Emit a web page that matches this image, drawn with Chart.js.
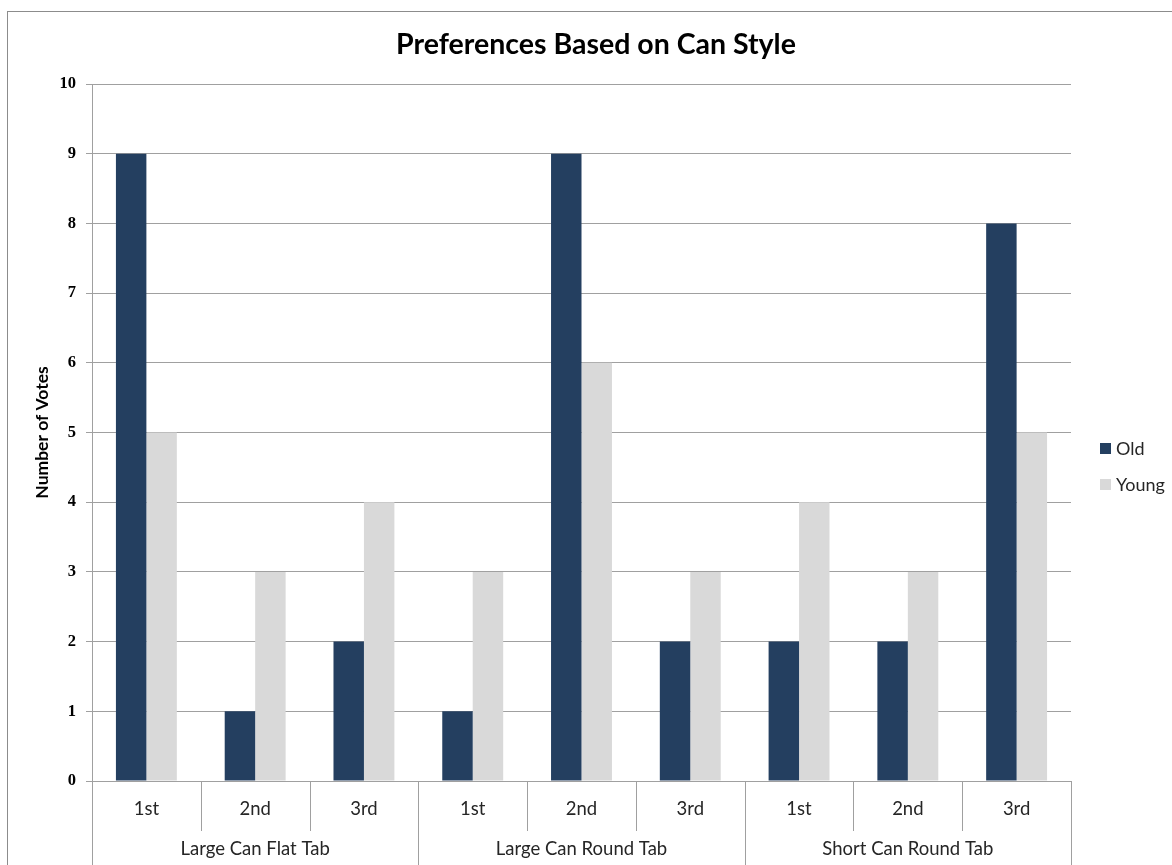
<!DOCTYPE html>
<html>
<head>
<meta charset="utf-8">
<script src="https://cdn.jsdelivr.net/npm/chart.js@4/dist/chart.umd.min.js"></script>
<style>
html,body{margin:0;padding:0;background:#fff;}
#wrap{position:relative;width:1172px;height:865px;}
</style>
</head>
<body>
<div id="wrap"><canvas id="c" width="1172" height="865"></canvas></div>
<script>
const chartTitle = 'Preferences Based on Can Style';
const yAxisTitle = 'Number of Votes';
const categories = ['1st','2nd','3rd','1st','2nd','3rd','1st','2nd','3rd'];
const groups = ['Large Can Flat Tab','Large Can Round Tab','Short Can Round Tab'];
const groupSize = 3;
const seriesNames = ['Old','Young'];
const oldVotes = [9,1,2,1,9,2,2,2,8];
const youngVotes = [5,3,4,3,6,3,4,3,5];
const seriesColors = ['#243F60','#D9D9D9'];
const yMin = 0, yMax = 10, yStep = 1;

const LABEL_FONT = "'Lato', 'Open Sans', sans-serif";
const LINE_COLOR = '#A0A0A0';

const decorPlugin = {
  id: 'decor',
  beforeDraw(chart) {
    const ctx = chart.ctx;
    ctx.save();
    ctx.fillStyle = '#fff';
    ctx.fillRect(0,0,chart.width,chart.height);
    ctx.strokeStyle = '#8C8C8C';
    ctx.lineWidth = 1;
    ctx.strokeRect(7.5, 11.5, chart.width + 20, chart.height + 20);
    ctx.restore();
  },
  afterDraw(chart) {
    const ctx = chart.ctx;
    const x = chart.scales.x;
    const area = chart.chartArea;
    ctx.save();
    // title
    ctx.fillStyle = '#000';
    ctx.font = "bold 28.5px " + LABEL_FONT;
    ctx.textAlign = 'center';
    ctx.textBaseline = 'middle';
    ctx.fillText(chartTitle, 596, 45);
    // category separators
    ctx.strokeStyle = LINE_COLOR;
    ctx.lineWidth = 1;
    for (let i = 0; i <= categories.length; i++) {
      const px = Math.round(x.getPixelForValue(i - 0.5)) + 0.5;
      const isGroupEdge = i % groupSize === 0;
      ctx.beginPath();
      ctx.moveTo(px, area.bottom);
      ctx.lineTo(px, isGroupEdge ? chart.height : area.bottom + 50);
      ctx.stroke();
    }
    // group labels
    ctx.fillStyle = '#262626';
    ctx.font = "18.5px " + LABEL_FONT;
    ctx.textAlign = 'center';
    ctx.textBaseline = 'middle';
    groups.forEach((g, gi) => {
      const a = x.getPixelForValue(gi * groupSize - 0.5);
      const b = x.getPixelForValue((gi + 1) * groupSize - 0.5);
      ctx.fillText(g, (a + b) / 2, area.bottom + 68);
    });
    // legend
    const legendY = [449, 485];
    ctx.font = "18px " + LABEL_FONT;
    ctx.textAlign = 'left';
    seriesNames.forEach((n, i) => {
      ctx.fillStyle = seriesColors[i];
      ctx.fillRect(1100, legendY[i] - 6, 11, 11);
      ctx.fillStyle = '#262626';
      ctx.fillText(n, 1116, legendY[i]);
    });
    ctx.restore();
  }
};

new Chart(document.getElementById('c'), {
  type: 'bar',
  data: {
    labels: categories,
    datasets: [
      { label: seriesNames[0], data: oldVotes, backgroundColor: seriesColors[0] },
      { label: seriesNames[1], data: youngVotes, backgroundColor: seriesColors[1] }
    ]
  },
  options: {
    responsive: false,
    animation: false,
    devicePixelRatio: 1,
    layout: { padding: { top: 84, right: 101, left: 0, bottom: 0 } },
    datasets: { bar: { categoryPercentage: 0.56, barPercentage: 1.0 } },
    plugins: { legend: { display: false }, title: { display: false }, tooltip: { enabled: false } },
    scales: {
      x: {
        grid: { display: false },
        border: { display: false },
        ticks: { color: '#262626', font: { family: LABEL_FONT, size: 18.5 }, padding: 9, maxRotation: 0, autoSkip: false },
        afterFit(scale) { scale.height = 84; }
      },
      y: {
        min: yMin, max: yMax,
        ticks: { stepSize: yStep, color: '#000', font: { family: "'Liberation Serif', serif", size: 16.5, weight: 'bold' }, padding: 10 },
        grid: { color: LINE_COLOR, tickLength: 6, drawTicks: true },
        border: { color: LINE_COLOR },
        title: { display: true, text: yAxisTitle, color: '#000', font: { family: LABEL_FONT, size: 17.5, weight: 'bold' }, padding: { top: 32, bottom: 0 } },
        afterFit(scale) { scale.width = 92; }
      }
    }
  },
  plugins: [decorPlugin]
});
</script>
</body>
</html>
